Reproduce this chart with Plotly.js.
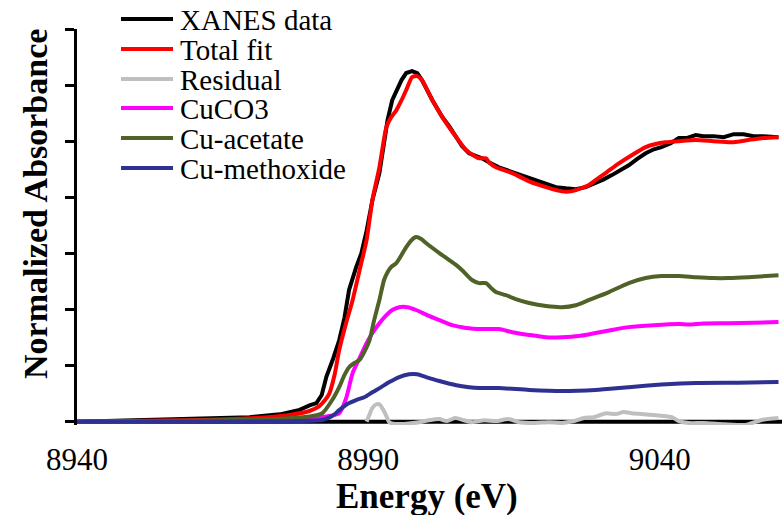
<!DOCTYPE html>
<html>
<head>
<meta charset="utf-8">
<script src="https://cdn.plot.ly/plotly-3.0.1.min.js"></script>
<style>html,body{margin:0;padding:0;background:#fff;}#chart{width:782px;height:515px;}</style>
</head>
<body>
<div id="chart"></div>
<script>
// ---- Data ----
const xanesE = [8940,8949.4,8961.1,8969.6,8974.8,8978.2,8979.9,8981.1,8982.0,8982.8,8984.0,8985.0,8985.9,8986.7,8987.9,8988.8,8989.7,8990.7,8991.9,8992.7,8993.3,8994.1,8994.8,8995.7,8996.5,8997.5,8998.4,8999.2,9000.1,9001.0,9002.7,9003.9,9005.1,9006.1,9007.3,9009.5,9010.7,9012.4,9014.7,9017.1,9018.4,9020.1,9022.2,9023.9,9025.6,9027.3,9029.0,9030.4,9031.8,9033.3,9034.7,9036.1,9037.6,9039.0,9040.3,9041.9,9043.3,9044.6,9046.2,9047.5,9049.2,9051.0,9052.7,9054.4,9056.1,9057.8,9060.4];
const xanesY = [0.0,0.006,0.01,0.016,0.026,0.042,0.058,0.066,0.095,0.16,0.227,0.29,0.37,0.47,0.55,0.60,0.68,0.79,0.886,1.0,1.075,1.146,1.18,1.218,1.243,1.25,1.243,1.218,1.182,1.146,1.086,1.053,1.014,0.982,0.957,0.939,0.925,0.907,0.89,0.872,0.861,0.85,0.836,0.832,0.829,0.836,0.85,0.864,0.879,0.896,0.914,0.936,0.957,0.971,0.979,0.993,1.011,1.011,1.022,1.018,1.018,1.014,1.025,1.025,1.018,1.018,1.014];

const fitE = [8940,8961.1,8971.3,8976.5,8979.9,8981.6,8982.5,8983.3,8984.2,8985.0,8986.1,8987.3,8988.5,8989.7,8990.7,8991.9,8993.1,8993.9,8994.8,8995.7,8996.5,8997.5,8998.4,8999.2,9001.0,9002.7,9005.1,9006.8,9008.2,9009.0,9010.2,9010.7,9011.9,9014.7,9017.6,9020.5,9023.2,9024.8,9026.1,9027.8,9029.0,9030.9,9033.0,9035.2,9037.6,9039.3,9041.0,9043.3,9046.2,9049.2,9052.3,9055.2,9057.8,9060.4];
const fitY = [0.0,0.006,0.014,0.024,0.038,0.055,0.075,0.10,0.166,0.255,0.345,0.433,0.54,0.647,0.79,0.907,1.05,1.085,1.11,1.146,1.182,1.228,1.232,1.218,1.146,1.086,1.014,0.968,0.947,0.939,0.939,0.925,0.907,0.886,0.857,0.836,0.821,0.821,0.829,0.843,0.861,0.889,0.921,0.95,0.979,0.99,0.996,1.0,1.004,1.0,0.996,1.004,1.011,1.014];

const residE = [8989.7,8990.2,8990.7,8991.4,8991.9,8992.6,8993.1,8993.6,8994.5,8996.2,8998.7,9000.4,9002.2,9003.5,9004.9,9006.4,9007.8,9009.9,9011.9,9014.1,9015.9,9018.4,9021.0,9023.2,9025.3,9027.0,9028.7,9030.8,9032.5,9033.8,9035.2,9036.9,9039.0,9040.7,9042.1,9043.3,9045.0,9047.5,9051.0,9054.7,9057.5,9060.4];
const residY = [0,0.025,0.049,0.062,0.062,0.041,0.02,-0.002,-0.008,-0.008,-0.002,0.005,0.009,0.002,0.013,0.005,-0.002,0.005,0.002,0.009,-0.002,-0.005,-0.002,-0.005,0.002,0.013,0.016,0.03,0.027,0.034,0.03,0.027,0.024,0.02,0.016,0.002,-0.005,-0.005,-0.009,-0.012,0.006,0.013];

const cuco3E = [8940,8969.6,8979.9,8983.3,8985.0,8986.2,8987.3,8988.5,8989.7,8990.7,8991.9,8993.1,8994.1,8995.3,8996.7,8998.2,9000.1,9002.2,9004.4,9006.8,9009.5,9012.4,9014.7,9017.6,9020.5,9023.2,9026.1,9029.0,9031.8,9034.7,9039.0,9043.3,9045.0,9047.5,9051.8,9056.1,9060.4];
const cuco3Y = [0,0.002,0.009,0.02,0.03,0.084,0.173,0.227,0.28,0.316,0.351,0.38,0.398,0.408,0.408,0.398,0.38,0.362,0.344,0.334,0.33,0.33,0.319,0.309,0.301,0.301,0.305,0.316,0.327,0.337,0.344,0.348,0.346,0.35,0.351,0.353,0.355];

const acetE = [8940,8961.1,8974.8,8979.9,8982.1,8983.8,8985.0,8985.9,8986.7,8987.6,8988.5,8989.3,8990.2,8991.0,8991.9,8992.7,8993.3,8993.9,8994.8,8995.7,8996.5,8997.4,8998.2,8999.1,8999.9,9002.2,9003.9,9005.1,9006.1,9007.8,9009.0,9010.2,9011.1,9011.9,9013.6,9015.3,9017.6,9020.5,9023.2,9025.6,9027.8,9031.3,9034.7,9037.6,9040.3,9043.3,9046.2,9049.2,9051.8,9055.2,9060.4];
const acetY = [0,0.004,0.01,0.018,0.03,0.077,0.123,0.166,0.194,0.209,0.22,0.248,0.29,0.362,0.434,0.505,0.533,0.551,0.565,0.594,0.622,0.647,0.658,0.651,0.637,0.601,0.576,0.558,0.54,0.505,0.494,0.494,0.476,0.462,0.451,0.437,0.423,0.412,0.408,0.415,0.433,0.462,0.494,0.512,0.519,0.519,0.515,0.512,0.512,0.515,0.522];

const methE = [8940,8978.2,8982.1,8983.8,8985.0,8986.4,8987.9,8989.3,8990.7,8992.2,8993.6,8995.3,8997.0,8998.4,8999.9,9002.2,9005.1,9007.3,9009.0,9012.4,9017.6,9023.2,9029.0,9034.7,9040.3,9046.2,9053.5,9060.4];
const methY = [0,0.002,0.006,0.02,0.041,0.063,0.077,0.087,0.105,0.123,0.141,0.159,0.169,0.169,0.159,0.145,0.13,0.123,0.12,0.12,0.113,0.109,0.113,0.123,0.132,0.138,0.139,0.141];

const seriesNames = ["XANES data","Total fit","Residual","CuCO3","Cu-acetate","Cu-methoxide"];
const seriesColors = ["#000000","#ff0000","#bfbfbf","#ff00ff","#4f6228","#2e3192"];
const xTickVals = [8940, 8990, 9040];
const xTickText = ["8940","8990","9040"];

// ---- Layout geometry ----
const W = 782, H = 515;
const mL = 77, mR = 0, mT = 29, mB = 90;
const PW = W - mL - mR, PH = H - mT - mB;
const px2x = p => (p - mL) / PW;
const py2y = p => (H - mB - p) / PH;

const serif = "Liberation Serif";

const xs = [xanesE, fitE, residE, cuco3E, acetE, methE];
const ys = [xanesY, fitY, residY, cuco3Y, acetY, methY];
const traces = xs.map((x, i) => ({
  type: 'scatter', mode: 'lines', x: x, y: ys[i], name: seriesNames[i],
  line: {color: seriesColors[i], width: 4, shape: i === 0 ? 'linear' : 'spline', smoothing: 0.6},
  showlegend: false, hoverinfo: 'skip'
}));

// custom legend
const legendRows = [19, 49, 79, 108, 138, 168];
const shapes = [{
  type: 'line', xref: 'paper', yref: 'y', x0: 0, x1: 1, y0: 0, y1: 0,
  line: {color: '#000', width: 4}, layer: 'below'
}];
const annotations = [];
seriesNames.forEach((n, i) => {
  shapes.push({type: 'line', xref: 'paper', yref: 'paper',
    x0: px2x(121), x1: px2x(173), y0: py2y(legendRows[i]), y1: py2y(legendRows[i]),
    line: {color: seriesColors[i], width: 4}});
  annotations.push({xref: 'paper', yref: 'paper', x: px2x(178), y: py2y(legendRows[i] + 1),
    xanchor: 'left', yanchor: 'middle', showarrow: false, text: n,
    font: {family: serif, size: 29, color: '#000'}});
});
annotations.push({xref: 'paper', yref: 'paper', x: px2x(35), y: py2y(204), textangle: -90,
  xanchor: 'center', yanchor: 'middle', showarrow: false, text: 'Normalized Absorbance',
  font: {family: serif, size: 34, color: '#000', weight: 'bold'}});
annotations.push({xref: 'paper', yref: 'paper', x: px2x(427), y: py2y(496),
  xanchor: 'center', yanchor: 'middle', showarrow: false, text: 'Energy (eV)',
  font: {family: serif, size: 35, color: '#000', weight: 'bold'}});

const layout = {
  width: W, height: H,
  margin: {l: mL, r: mR, t: mT, b: mB, pad: 0},
  paper_bgcolor: '#fff', plot_bgcolor: '#fff',
  showlegend: false,
  font: {family: serif},
  xaxis: {range: [8940, 9061], showgrid: false, zeroline: false, showline: false,
    ticks: '', tickvals: xTickVals, ticktext: xTickText, ticklabelstandoff: 13,
    tickfont: {family: serif, size: 31, color: '#000'}},
  yaxis: {range: [-0.012, 1.4], dtick: 0.2, tick0: 0, showgrid: false, zeroline: false,
    showline: true, linewidth: 3, linecolor: '#000', ticks: 'outside', ticklen: 9, tickwidth: 3,
    tickcolor: '#000', showticklabels: false},
  shapes: shapes, annotations: annotations
};

Plotly.newPlot('chart', traces, layout, {displayModeBar: false, staticPlot: true});
</script>
</body>
</html>
